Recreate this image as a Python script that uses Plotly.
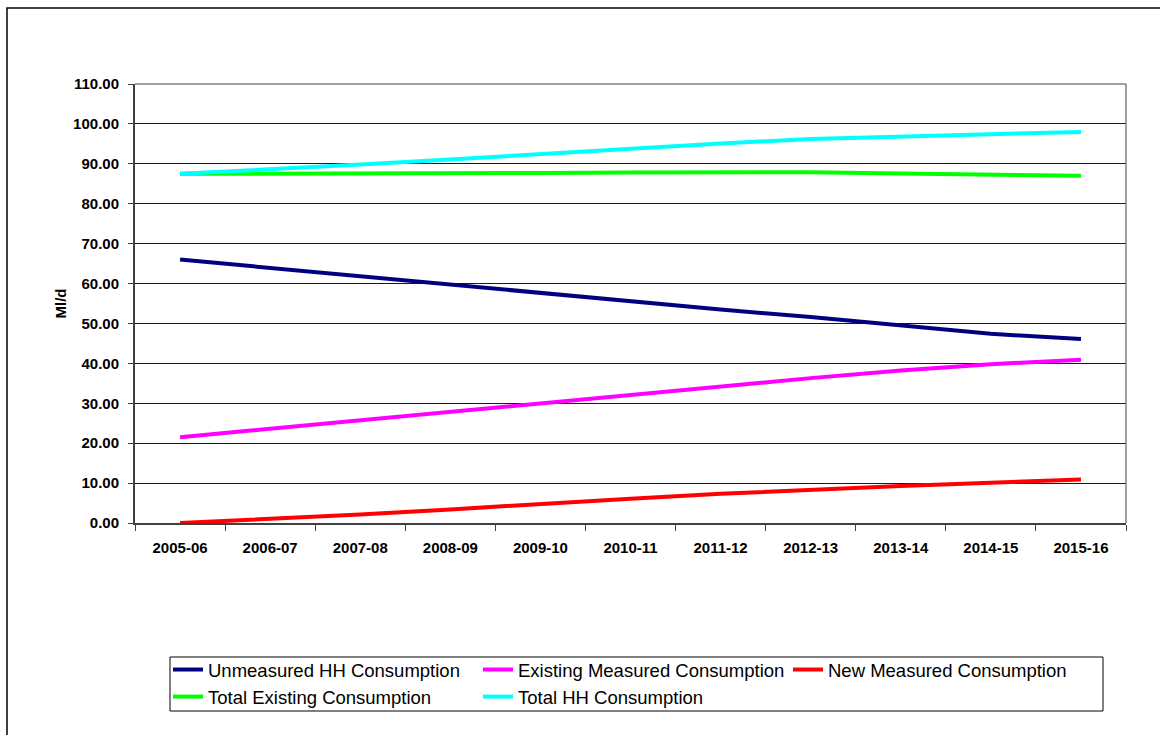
import plotly.graph_objects as go

# Financial years on the category axis
years = ["2005-06", "2006-07", "2007-08", "2008-09", "2009-10", "2010-11",
         "2011-12", "2012-13", "2013-14", "2014-15", "2015-16"]

# Consumption series, Ml/d
unmeasured_hh = [66.0, 63.9, 61.9, 59.8, 57.7, 55.6, 53.5, 51.6, 49.4, 47.4, 46.1]
existing_measured = [21.5, 23.6, 25.7, 27.9, 30.0, 32.2, 34.3, 36.3, 38.2, 39.8, 40.9]
new_measured = [0.0, 1.0, 2.1, 3.4, 4.8, 6.1, 7.3, 8.4, 9.3, 10.1, 10.9]
total_existing = [87.5, 87.5, 87.6, 87.7, 87.7, 87.8, 87.8, 87.9, 87.6, 87.2, 87.0]
total_hh = [87.5, 88.6, 89.8, 91.1, 92.5, 93.9, 95.1, 96.2, 96.9, 97.4, 98.0]

y_ticks = [0, 10, 20, 30, 40, 50, 60, 70, 80, 90, 100, 110]

series = [
    ("Unmeasured HH Consumption", unmeasured_hh, "#000080"),
    ("Existing Measured Consumption", existing_measured, "#FF00FF"),
    ("New Measured Consumption", new_measured, "#FF0000"),
    ("Total Existing Consumption", total_existing, "#00FF00"),
    ("Total HH Consumption", total_hh, "#00FFFF"),
]

fig = go.Figure()
for name, vals, col in series:
    fig.add_trace(go.Scatter(
        x=years, y=vals, name=name, mode="lines",
        line=dict(color=col, width=4),
    ))

W, H = 1160, 735
L, R, T, B = 135, 34, 84, 212
pw, ph = W - L - R, H - T - B

def px(x):
    return (x - L) / pw

def py(y):
    return (H - B - y) / ph

FONT = "Arial, Liberation Sans, sans-serif"

fig.update_layout(
    width=W, height=H,
    margin=dict(l=L, r=R, t=T, b=B, autoexpand=False),
    paper_bgcolor="white", plot_bgcolor="white",
    font=dict(family=FONT, color="black"),
    showlegend=True,
    legend=dict(
        orientation="h",
        x=px(168), y=py(651), xanchor="left", yanchor="top",
        bgcolor="rgba(0,0,0,0)", borderwidth=0,
        font=dict(size=18.5, family=FONT, color="black"),
        entrywidth=265, entrywidthmode="pixels",
        itemwidth=30, tracegroupgap=0,
    ),
    xaxis=dict(
        type="category", range=[-0.5, 10.5],
        tickson="boundaries", ticks="outside", ticklen=6, tickcolor="#404040",
        showline=True, linecolor="#404040", linewidth=2,
        showgrid=False, zeroline=False,
        tickfont=dict(size=15, family=FONT, color="black", weight="bold"),
        ticklabelstandoff=10,
    ),
    yaxis=dict(
        range=[0, 110], tickvals=y_ticks, tickformat=".2f",
        ticks="outside", ticklen=5, tickcolor="#404040",
        showline=True, linecolor="#404040", linewidth=2,
        showgrid=True, gridcolor="#1a1a1a", gridwidth=1, zeroline=False,
        tickfont=dict(size=15, family=FONT, color="black", weight="bold"),
        ticklabelstandoff=6,
    ),
    annotations=[dict(
        text="<b>Ml/d</b>", textangle=-90,
        xref="paper", yref="paper", x=px(60), y=0.5,
        xanchor="center", yanchor="middle", showarrow=False,
        font=dict(size=15, family=FONT, color="black"),
    )],
    shapes=[
        # outer chart frame
        dict(type="rect", xref="paper", yref="paper",
             x0=px(7), x1=px(1170), y0=py(745), y1=py(8),
             line=dict(color="black", width=1.5), layer="below"),
        # legend frame
        dict(type="rect", xref="paper", yref="paper",
             x0=px(170), x1=px(1103), y0=py(711), y1=py(657),
             line=dict(color="black", width=1), fillcolor="white", layer="below"),
        # plot area border (top and right)
        dict(type="line", xref="paper", yref="paper",
             x0=0, x1=1, y0=1, y1=1, line=dict(color="#808080", width=1.5)),
        dict(type="line", xref="paper", yref="paper",
             x0=1, x1=1, y0=0, y1=1, line=dict(color="#808080", width=1.5)),
    ],
)

fig.write_html("out.html")
